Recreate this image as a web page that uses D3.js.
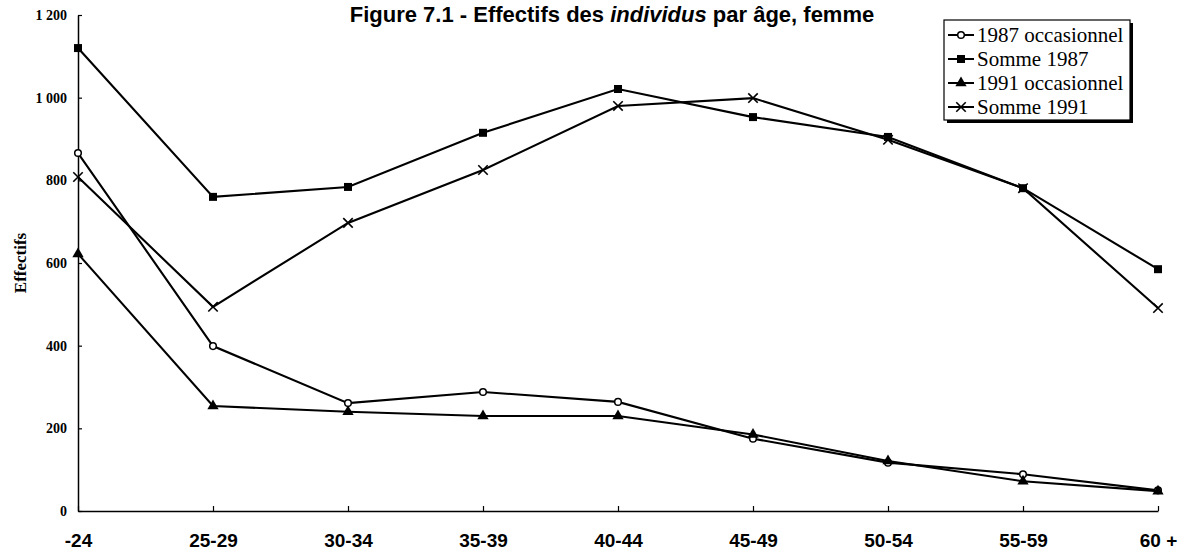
<!DOCTYPE html>
<html><head><meta charset="utf-8">
<script src="https://cdn.jsdelivr.net/npm/d3@7"></script>
<style>body{margin:0;background:#fff}</style>
</head><body>
<svg id="c" width="1179" height="554"></svg>
<script>
const categories = ["-24","25-29","30-34","35-39","40-44","45-49","50-54","55-59","60 +"];
const occ1987 = [866,399,261,288,264,175,117,89,50];
const somme1987 = [1120,760,784,915,1021,953,905,781,585];
const occ1991 = [622,254,240,230,230,185,121,72,48];
const somme1991 = [808,494,697,825,980,999,898,781,491];
const yTickValues = [0,200,400,600,800,1000,1200];
const yTickLabels = ["0","200","400","600","800","1 000","1 200"];
const seriesNames = ["1987 occasionnel","Somme 1987","1991 occasionnel","Somme 1991"];
const markerTypes = ["circle","square","triangle","times"];
const yTitle = "Effectifs";

const series = [occ1987, somme1987, occ1991, somme1991].map((v,i)=>({name:seriesNames[i], marker:markerTypes[i], values:v}));

const svg = d3.select("#c");
const x = d3.scalePoint().domain(categories).range([78,1158]);
const y = d3.scaleLinear().domain([0,1200]).range([511,15]);

// title
const t = svg.append("text").attr("x",612).attr("y",22).attr("text-anchor","middle")
  .attr("font-family","Liberation Sans, Arial, sans-serif").attr("font-weight","bold").attr("font-size",22);
t.append("tspan").text("Figure 7.1 - Effectifs des ");
t.append("tspan").attr("font-style","italic").text("individus");
t.append("tspan").text(" par âge, femme");

// axes
const yAxis = svg.append("g").attr("transform","translate(78,0)")
  .call(d3.axisLeft(y).tickValues(yTickValues).tickFormat((d,i)=>yTickLabels[i]).tickSize(-4).tickSizeOuter(0).tickPadding(11));
yAxis.selectAll("text").attr("font-family","Liberation Serif, Times New Roman, serif").attr("font-weight","bold").attr("font-size",14).attr("fill","#000");
yAxis.select(".domain").attr("stroke","#000").attr("stroke-width",1.5);
yAxis.selectAll(".tick line").attr("stroke","#000").attr("stroke-width",1.2);

const xAxis = svg.append("g").attr("transform","translate(0,511)")
  .call(d3.axisBottom(x).tickSize(-5).tickSizeOuter(0).tickPadding(23));
xAxis.selectAll("text").attr("font-family","Liberation Sans Narrow, Arial Narrow, Liberation Sans, sans-serif").attr("font-weight","bold").attr("font-size",19).attr("fill","#000");
xAxis.select(".domain").attr("stroke","#000").attr("stroke-width",1.5);
xAxis.selectAll(".tick line").attr("stroke","#000").attr("stroke-width",1.2);

svg.append("text").attr("transform","translate(26,263) rotate(-90)").attr("text-anchor","middle")
  .attr("font-family","Liberation Serif, Times New Roman, serif").attr("font-weight","bold").attr("font-size",17).text(yTitle);

// markers
function drawMarker(g, type, cx, cy){
  if(type==="circle"){
    g.append("circle").attr("cx",cx).attr("cy",cy).attr("r",3.3).attr("fill","#fff").attr("stroke","#000").attr("stroke-width",1.5);
  } else if(type==="square"){
    g.append("path").attr("transform",`translate(${cx},${cy})`).attr("d",d3.symbol(d3.symbolSquare,64)()).attr("fill","#000");
  } else if(type==="triangle"){
    g.append("path").attr("transform",`translate(${cx},${cy})`).attr("d",d3.symbol(d3.symbolTriangle,55)()).attr("fill","#000");
  } else {
    const sym = d3.symbolTimes || d3.symbolCross;
    g.append("path").attr("transform",`translate(${cx},${cy})`+(d3.symbolTimes?"":" rotate(45)")).attr("d",d3.symbol(sym,60)())
      .attr("fill", d3.symbolTimes?"none":"#000").attr("stroke","#000").attr("stroke-width",1.6);
  }
}

const line = d3.line().x((d,i)=>x(categories[i])).y(d=>y(d));
const plot = svg.append("g");
series.forEach(s=>{
  plot.append("path").datum(s.values).attr("d",line).attr("fill","none").attr("stroke","#000").attr("stroke-width",2.1);
});
series.forEach(s=>{
  const g = plot.append("g");
  s.values.forEach((v,i)=>drawMarker(g, s.marker, x(categories[i]), y(v)));
});

// legend
const lg = svg.append("g");
lg.append("rect").attr("x",947).attr("y",23).attr("width",186).attr("height",100).attr("fill","#000");
lg.append("rect").attr("x",944).attr("y",20).attr("width",186).attr("height",100).attr("fill","#fff").attr("stroke","#000").attr("stroke-width",1.2);
series.forEach((s,i)=>{
  const cy = 35 + i*24;
  lg.append("line").attr("x1",948).attr("x2",974).attr("y1",cy).attr("y2",cy).attr("stroke","#000").attr("stroke-width",2);
  drawMarker(lg, s.marker, 961, cy);
  lg.append("text").attr("x",977).attr("y",cy).attr("dy","0.35em")
    .attr("font-family","Liberation Serif, Times New Roman, serif").attr("font-size",21).text(s.name);
});
</script>
</body></html>
